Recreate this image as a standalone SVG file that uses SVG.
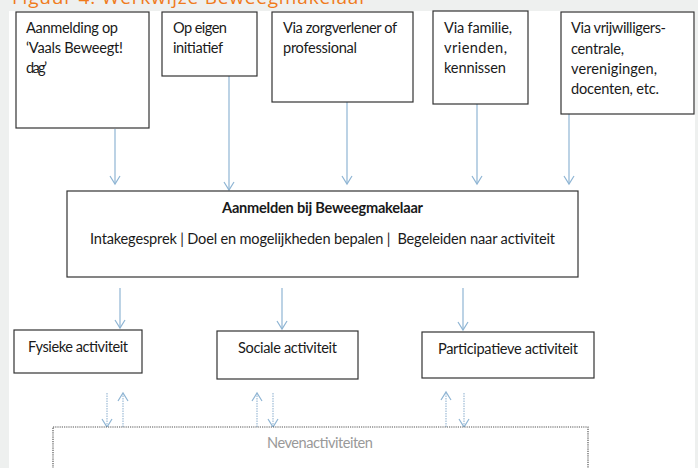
<svg xmlns="http://www.w3.org/2000/svg" width="698" height="468" viewBox="0 0 698 468">
<defs>
<style>
.t{font-family:Lato,"Open Sans","Liberation Sans",sans-serif;font-size:14.6px;fill:#1a1a1a}
.b{font-weight:bold}
.box{fill:#fff;stroke:#333;stroke-width:1.2}
.arr{stroke:#8fb5d4;stroke-width:1.2;fill:none;marker-end:url(#ah)}
.dot{stroke:#9dbbd6;stroke-width:1.2;fill:none;stroke-dasharray:1.5 1;marker-end:url(#ah)}
.neven{fill:#fff;stroke:#555;stroke-width:1.2;stroke-dasharray:1.2 1}
</style>
<marker id="ah" markerUnits="userSpaceOnUse" markerWidth="16" markerHeight="16" refX="0" refY="0" orient="auto" overflow="visible" viewBox="-8 -8 16 16">
<path d="M-8,-5 L0,0 L-8,5" fill="none" stroke="#8fb5d4" stroke-width="1.2"/>
</marker>
</defs>
<rect x="0" y="0" width="698" height="468" fill="#eef0ef"/>
<rect x="9" y="11" width="686" height="457" fill="#fff"/>
<text x="12" y="3.5" textLength="355" style="font-family:'Open Sans','Liberation Sans',sans-serif;font-size:19px;fill:#f07b1c">Figuur 4: Werkwijze Beweegmakelaar</text>

<g id="connectors">
<line class="arr" x1="115" y1="129" x2="115" y2="184"/>
<line class="arr" x1="229" y1="76" x2="229" y2="190"/>
<line class="arr" x1="347" y1="102" x2="347" y2="184"/>
<line class="arr" x1="477" y1="104" x2="477" y2="184"/>
<line class="arr" x1="569" y1="114" x2="569" y2="184"/>
<line class="arr" x1="120" y1="288" x2="120" y2="328"/>
<line class="arr" x1="282" y1="288" x2="282" y2="329"/>
<line class="arr" x1="463" y1="288" x2="463" y2="330"/>
<line class="dot" x1="107" y1="393" x2="107" y2="427"/>
<line class="dot" x1="123" y1="427" x2="123" y2="393"/>
<line class="dot" x1="257" y1="427" x2="257" y2="393"/>
<line class="dot" x1="273" y1="393" x2="273" y2="427"/>
<line class="dot" x1="446" y1="427" x2="446" y2="392"/>
<line class="dot" x1="464" y1="393" x2="464" y2="427"/>
</g>

<g id="n1"><rect class="box" x="16" y="12" width="133" height="116"/>
<text class="t" x="26" y="33" textLength="92">Aanmelding op</text>
<text class="t" x="26" y="53" textLength="97">‘Vaals Beweegt!</text>
<text class="t" x="26" y="73" textLength="21">dag’</text></g>

<g id="n2"><rect class="box" x="162" y="12" width="95" height="64"/>
<text class="t" x="173" y="33" textLength="54">Op eigen</text>
<text class="t" x="173" y="53" textLength="50">initiatief</text></g>

<g id="n3"><rect class="box" x="272" y="12" width="141" height="90"/>
<text class="t" x="283" y="33" textLength="114">Via zorgverlener of</text>
<text class="t" x="283" y="53" textLength="74">professional</text></g>

<g id="n4"><rect class="box" x="433" y="11" width="95" height="93"/>
<text class="t" x="444" y="33" textLength="68">Via familie,</text>
<text class="t" x="444" y="53" textLength="63">vrienden,</text>
<text class="t" x="444" y="73" textLength="62">kennissen</text></g>

<g id="n5"><rect class="box" x="561" y="12" width="133" height="102"/>
<text class="t" x="571" y="33" textLength="95">Via vrijwilligers-</text>
<text class="t" x="571" y="53.5" textLength="53">centrale,</text>
<text class="t" x="571" y="74" textLength="86">verenigingen,</text>
<text class="t" x="571" y="94" textLength="88">docenten, etc.</text></g>

<g id="main"><rect class="box" x="67" y="191" width="511" height="86"/>
<text class="t b" x="222" y="213" textLength="201">Aanmelden bij Beweegmakelaar</text>
<text class="t" x="90" y="244" textLength="465" xml:space="preserve">Intakegesprek | Doel en mogelijkheden bepalen |  Begeleiden naar activiteit</text></g>

<g id="fysiek"><rect class="box" x="14" y="330" width="128" height="43"/>
<text class="t" x="28" y="352" textLength="100">Fysieke activiteit</text></g>

<g id="sociaal"><rect class="box" x="217" y="331" width="141" height="48"/>
<text class="t" x="238" y="353" textLength="99">Sociale activiteit</text></g>

<g id="particip"><rect class="box" x="422" y="332" width="172" height="46"/>
<text class="t" x="438" y="354" textLength="140">Participatieve activiteit</text></g>

<g id="neven"><rect class="neven" x="53" y="427" width="535" height="60"/>
<text class="t" x="267" y="448" textLength="106" style="fill:#999">Nevenactiviteiten</text></g>
</svg>
